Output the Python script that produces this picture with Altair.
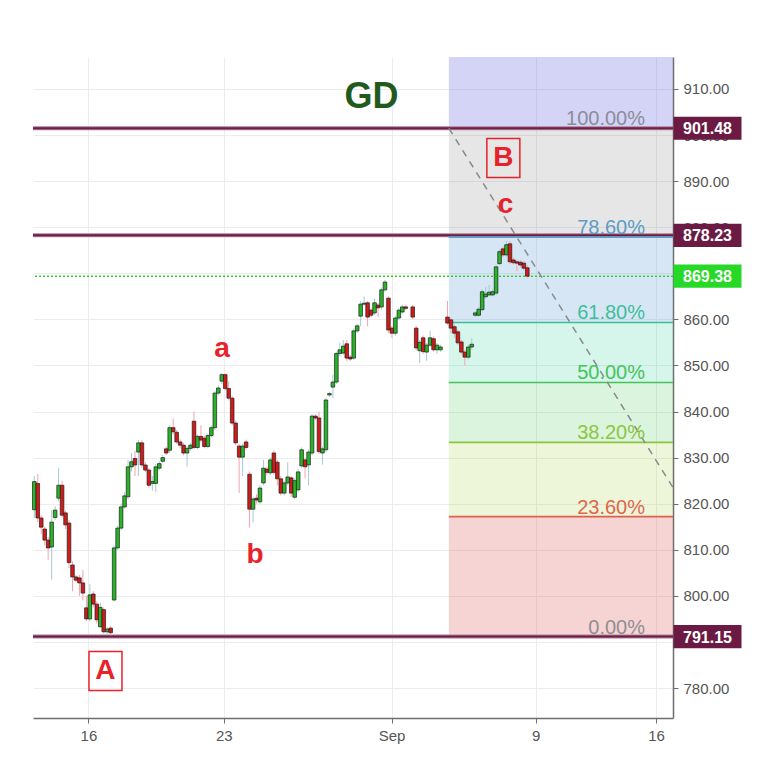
import altair as alt
import pandas as pd

# ---------------- price bars (hourly) ----------------
opens = [818.7, 824.4, 816.9, 814.5, 812.1, 810.6, 817.0, 821.2, 824.0, 818.0,
         815.8, 806.7, 804.1, 803.9, 802.8, 797.4, 795.0, 800.4, 798.2, 793.3,
         797.0, 792.2, 793.0, 799.1, 810.4, 814.7, 819.3, 821.5, 828.0, 829.8,
         831.2, 833.2, 828.4, 827.3, 824.4, 824.4, 827.7, 829.2, 831.9, 831.6,
         836.5, 835.5, 833.4, 832.7, 831.0, 832.0, 837.9, 832.2, 834.6, 834.2,
         832.4, 834.8, 836.5, 844.0, 846.6, 848.0, 845.0, 842.9, 837.5, 832.5,
         830.1, 833.4, 826.4, 818.8, 821.2, 820.4, 824.5, 827.5, 826.7, 831.0,
         829.0, 825.4, 822.3, 824.5, 825.6, 821.4, 823.0, 828.2, 829.5, 828.4,
         831.0, 839.0, 838.6, 831.0, 831.7, 843.6, 845.3, 846.4, 852.6, 852.7,
         854.7, 851.8, 851.6, 857.5, 860.7, 863.3, 863.6, 862.0, 861.4, 863.1,
         862.7, 866.4, 864.6, 858.1, 857.0, 860.3, 861.6, 862.7, 862.7, 858.1,
         853.2, 856.0, 852.9, 854.4, 855.8, 853.4, 853.4, 860.5, 859.9, 858.4,
         857.3, 855.1, 852.9, 851.8, 854.0, 860.9, 860.9, 862.1, 864.9, 865.3,
         865.3, 865.7, 872.1, 875.3, 874.0, 876.4, 872.9, 872.5, 872.4, 872.2,
         871.2]
highs = [826.0, 826.5, 817.5, 815.0, 812.8, 818.6, 819.5, 827.8, 825.0, 818.5,
         816.5, 807.5, 804.5, 804.5, 805.6, 800.0, 802.6, 801.0, 798.8, 798.5,
         797.5, 793.2, 793.4, 811.0, 815.2, 820.0, 822.5, 829.5, 831.0, 831.5,
         833.8, 833.8, 829.0, 827.8, 826.0, 828.6, 829.2, 830.6, 832.4, 837.0,
         838.5, 836.0, 834.0, 833.2, 832.5, 833.2, 840.0, 835.0, 837.0, 834.7,
         835.2, 837.0, 844.5, 845.6, 848.4, 848.3, 846.5, 843.4, 838.0, 833.0,
         833.0, 833.9, 827.0, 821.5, 822.0, 824.0, 829.5, 828.0, 830.0, 831.6,
         829.5, 826.0, 825.0, 829.0, 826.0, 825.5, 827.5, 832.2, 830.0, 831.7,
         839.5, 839.4, 840.0, 832.4, 843.0, 844.3, 848.0, 853.0, 855.0, 855.5,
         855.5, 852.3, 858.0, 859.0, 864.0, 865.0, 864.0, 862.5, 864.5, 863.6,
         866.9, 868.6, 865.0, 858.6, 860.8, 862.5, 863.2, 863.2, 863.2, 858.6,
         855.5, 856.5, 854.9, 857.5, 856.3, 854.9, 854.5, 864.0, 860.4, 858.9,
         857.8, 855.6, 853.4, 854.5, 855.9, 861.8, 862.7, 866.5, 867.0, 867.5,
         866.5, 871.9, 875.2, 875.8, 877.0, 877.0, 873.4, 873.0, 872.9, 872.7,
         871.7]
lows = [816.9, 816.0, 813.5, 811.0, 807.8, 803.5, 816.5, 820.5, 817.0, 814.5,
        806.0, 801.0, 803.0, 800.0, 799.0, 794.5, 794.5, 797.5, 794.0, 793.0,
        791.8, 791.6, 791.4, 798.8, 810.0, 814.2, 819.0, 821.0, 827.0, 826.0,
        826.0, 827.8, 826.8, 823.5, 822.8, 822.5, 827.2, 828.8, 830.5, 831.0,
        835.0, 833.0, 832.0, 830.5, 828.0, 831.5, 831.8, 831.8, 833.3, 832.0,
        832.0, 834.4, 836.0, 843.5, 846.0, 844.5, 842.4, 837.0, 832.7, 822.3,
        826.0, 831.7, 814.8, 816.0, 820.0, 820.0, 824.0, 826.3, 826.2, 826.3,
        824.0, 821.8, 821.8, 824.0, 821.5, 821.0, 822.5, 827.8, 825.5, 824.0,
        830.5, 838.2, 830.8, 828.5, 831.2, 843.2, 843.0, 846.0, 852.0, 852.3,
        851.0, 851.0, 851.2, 857.0, 858.5, 863.0, 858.5, 860.4, 861.0, 860.5,
        862.2, 866.0, 857.0, 856.0, 856.5, 859.8, 861.2, 862.0, 860.0, 853.3,
        850.5, 852.5, 851.0, 854.0, 853.0, 852.5, 853.0, 858.8, 857.0, 856.0,
        854.4, 852.4, 850.0, 851.3, 853.5, 860.5, 860.5, 861.7, 864.5, 865.0,
        865.0, 865.3, 871.7, 873.5, 873.6, 872.0, 871.9, 870.5, 871.3, 870.6,
        869.0]
closes = [824.8, 816.9, 814.9, 812.1, 810.4, 816.0, 818.6, 824.0, 817.5, 815.4,
          807.2, 804.1, 803.4, 802.8, 800.6, 795.0, 800.2, 798.2, 794.8, 797.5,
          792.2, 792.8, 792.0, 810.4, 814.7, 819.3, 821.7, 828.0, 829.1, 828.4,
          833.2, 828.4, 827.3, 824.0, 824.8, 828.0, 828.7, 830.0, 831.0, 836.5,
          835.6, 833.4, 832.7, 831.0, 832.0, 832.7, 832.2, 834.6, 833.8, 832.4,
          834.8, 836.5, 844.0, 845.1, 848.0, 845.0, 842.9, 837.5, 833.2, 830.1,
          832.5, 832.2, 818.8, 821.0, 820.8, 823.4, 827.7, 826.8, 829.5, 826.8,
          825.4, 822.3, 824.5, 825.8, 822.3, 825.0, 826.9, 831.7, 828.0, 831.2,
          839.0, 838.6, 831.3, 831.9, 842.5, 843.9, 846.4, 852.6, 853.4, 854.2,
          851.6, 851.4, 857.5, 858.6, 863.3, 863.5, 860.5, 860.9, 863.6, 862.5,
          866.4, 868.1, 857.7, 857.0, 860.3, 862.0, 862.7, 862.4, 860.5, 853.8,
          855.0, 853.0, 854.4, 856.0, 853.4, 854.4, 854.0, 859.2, 858.1, 857.0,
          854.9, 852.9, 851.8, 854.0, 854.6, 861.4, 862.2, 866.0, 865.5, 865.9,
          866.0, 871.4, 874.7, 874.0, 876.2, 872.5, 872.3, 872.2, 871.8, 871.1,
          869.38]
# bar slot of every candle; the two session breaks leave one empty slot each
slots = list(range(0, 108)) + list(range(109, 118)) + list(range(119, 143))

# ---------------- swing points and levels ----------------
point_A = 791.15
point_B = 901.48
resistance = 878.23
last_price = 869.38
fib_start = 119.4          # bar slot where the retracement is anchored
trend_end = (183.96, 823.5)

fib_ratios = [0.0, 0.236, 0.382, 0.5, 0.618, 0.786, 1.0]
fib_labels = ["0.00%", "23.60%", "38.20%", "50.00%", "61.80%", "78.60%", "100.00%"]
fib_line_colors = ["#8a8a8a", "#e0604c", "#8cc63f", "#45c45a", "#3cbf9a", "#5b9cc8", "#8a8a9e"]
fib_text_colors = ["#8f8f8f", "#e0654c", "#8cc63f", "#45c45a", "#3cbf9a", "#5b9cc8", "#8c8c9c"]
# fill between consecutive levels, the last one is above 100%
zone_colors = ["rgba(224,96,96,0.27)", "rgba(170,210,70,0.2)", "rgba(76,200,92,0.2)",
               "rgba(51,204,153,0.2)", "rgba(91,156,214,0.25)", "rgba(128,128,128,0.2)",
               "rgba(102,102,221,0.28)"]

x_ticks = [15.6, 54.6, 102.9, 144.4, 179.1]
x_tick_labels = ["16", "23", "Sep", "9", "16"]
y_ticks = list(range(780, 911, 10))

X_DOMAIN = [-0.374, 183.96]
Y_DOMAIN = [773.49, 916.94]
FONT = "Liberation Sans"

# ---------------- tables ----------------
bars = pd.DataFrame({"t": slots, "o": opens, "h": highs, "l": lows, "c": closes})
bars["h"] = bars[["h", "o", "c"]].max(axis=1)
bars["l"] = bars[["l", "o", "c"]].min(axis=1)
bars["up"] = bars["c"] >= bars["o"]

span = point_B - point_A
level_prices = [point_A + r * span for r in fib_ratios]
levels = pd.DataFrame({"p": level_prices, "label": fib_labels,
                       "line": fib_line_colors, "tc": fib_text_colors,
                       "x0": fib_start, "x1": X_DOMAIN[1], "xl": 175.9})
zone_tops = level_prices[1:] + [Y_DOMAIN[1]]
zones = pd.DataFrame({"y0": level_prices, "y1": zone_tops, "fill": zone_colors,
                      "x0": fib_start, "x1": X_DOMAIN[1]})

xs = alt.Scale(domain=X_DOMAIN, nice=False, zero=False, padding=0)
ys = alt.Scale(domain=Y_DOMAIN, nice=False, zero=False, padding=0)

label_expr = " : ".join(
    f"abs(datum.value - {t}) < 0.01 ? '{lab}'" for t, lab in zip(x_ticks, x_tick_labels)
) + " : ''"

axis_common = dict(domainColor="#6e6e6e", domainWidth=1.5, tickColor="#6e6e6e",
                   tickSize=5, labelColor="#555555", labelFont=FONT,
                   labelFontSize=15, gridColor="#ececec", gridWidth=1, title=None,
                   labelPadding=5)

X = alt.X("x:Q", scale=xs,
          axis=alt.Axis(values=x_ticks, labelExpr=label_expr, orient="bottom", **axis_common))
Y = alt.Y("y:Q", scale=ys,
          axis=alt.Axis(values=y_ticks, format=".2f", orient="right", **axis_common))

# base layer carrying the axes and grid
base = alt.Chart(pd.DataFrame({"x": [X_DOMAIN[0]], "y": [Y_DOMAIN[0]]})).mark_point(
    opacity=0).encode(x=X, y=Y)

zone_layer = alt.Chart(zones).mark_rect().encode(
    x=alt.X("x0:Q", scale=xs), x2="x1:Q",
    y=alt.Y("y0:Q", scale=ys), y2="y1:Q",
    fill=alt.Fill("fill:N", scale=None))

level_lines = alt.Chart(levels).mark_rule(strokeWidth=1.6).encode(
    x=alt.X("x0:Q", scale=xs), x2="x1:Q",
    y=alt.Y("p:Q", scale=ys),
    color=alt.Color("line:N", scale=None))

hlines = pd.DataFrame({"p": [point_B, resistance, point_A]})
purple_outer = alt.Chart(hlines).mark_rule(strokeWidth=4, color="#b07d9a").encode(
    y=alt.Y("p:Q", scale=ys))
purple_inner = alt.Chart(hlines).mark_rule(strokeWidth=2, color="#6a1f45").encode(
    y=alt.Y("p:Q", scale=ys))

# the 78.6% line drawn again inside the zone, over the resistance line
level_lines_top = alt.Chart(levels[levels["label"].isin(["78.60%"])]).mark_rule(
    strokeWidth=1.6).encode(
    x=alt.X("x0:Q", scale=xs), x2="x1:Q",
    y=alt.Y("p:Q", scale=ys),
    color=alt.Color("line:N", scale=None))

last_line = alt.Chart(pd.DataFrame({"p": [last_price]})).mark_rule(
    strokeWidth=1.5, color="#2ccf2c", strokeDash=[2, 2]).encode(y=alt.Y("p:Q", scale=ys))

trend = alt.Chart(pd.DataFrame({"x0": [fib_start], "y0": [point_B],
                                "x1": [trend_end[0]], "y1": [trend_end[1]]})).mark_rule(
    strokeWidth=1.5, color="#8a8a8a", strokeDash=[7, 6]).encode(
    x=alt.X("x0:Q", scale=xs), x2="x1:Q", y=alt.Y("y0:Q", scale=ys), y2="y1:Q")

wicks = alt.Chart(bars).mark_rule(strokeWidth=1).encode(
    x=alt.X("t:Q", scale=xs), y=alt.Y("l:Q", scale=ys), y2="h:Q",
    color=alt.Color("up:N", scale=alt.Scale(domain=[True, False],
                                             range=["#a3c8d8", "#f4a3ab"]), legend=None))
bodies = alt.Chart(bars).mark_bar(size=3.6, stroke="#1e1e1e", strokeWidth=0.7).encode(
    x=alt.X("t:Q", scale=xs), y=alt.Y("o:Q", scale=ys), y2="c:Q",
    fill=alt.Fill("up:N", scale=alt.Scale(domain=[True, False],
                                           range=["#26b526", "#d11a1a"]), legend=None))

pct_labels = alt.Chart(levels).mark_text(
    align="right", baseline="alphabetic", dy=-3, font=FONT, fontSize=20).encode(
    x=alt.X("xl:Q", scale=xs), y=alt.Y("p:Q", scale=ys),
    text="label:N", color=alt.Color("tc:N", scale=None))

# wave labels
waves = pd.DataFrame({"x": [54.06, 63.57, 135.7], "y": [851.84, 807.13, 883.09],
                      "txt": ["a", "b", "c"]})
wave_text = alt.Chart(waves).mark_text(
    font=FONT, fontSize=28, fontWeight="bold", color="#e8222a", baseline="alphabetic").encode(
    x=alt.X("x:Q", scale=xs), y=alt.Y("y:Q", scale=ys), text="txt:N")

pivots = pd.DataFrame({"x": [20.5, 135.1], "y": [783.7, 895.0], "txt": ["A", "B"]})
pivot_box = alt.Chart(pivots).mark_point(
    shape="M-0.846,-1L0.846,-1L0.846,1L-0.846,1Z", size=1521, filled=False,
    stroke="#e8222a", strokeWidth=1.5, opacity=1).encode(
    x=alt.X("x:Q", scale=xs), y=alt.Y("y:Q", scale=ys))
pivot_text = alt.Chart(pivots).mark_text(
    font=FONT, fontSize=28, fontWeight="bold", color="#e8222a", baseline="middle").encode(
    x=alt.X("x:Q", scale=xs), y=alt.Y("y:Q", scale=ys), text="txt:N")

title = alt.Chart(pd.DataFrame({"x": [97.1], "y": [905.9], "txt": ["GD"]})).mark_text(
    font=FONT, fontSize=36, fontWeight="bold", color="#1f5a1e", baseline="alphabetic").encode(
    x=alt.X("x:Q", scale=xs), y=alt.Y("y:Q", scale=ys), text="txt:N")

# price tags on the right axis
tags = pd.DataFrame({"p": [point_B, resistance, last_price, point_A],
                     "bg": ["#6b1a43", "#6b1a43", "#27d827", "#6b1a43"]})
tag_box = alt.Chart(tags).mark_point(
    shape="M-1,-0.34L1,-0.34L1,0.34L-1,0.34Z", size=4624, filled=True, opacity=1).encode(
    x=alt.value(674.5), y=alt.Y("p:Q", scale=ys), fill=alt.Fill("bg:N", scale=None))
tag_text = alt.Chart(tags).mark_text(
    font=FONT, fontSize=16, fontWeight="bold", color="white", baseline="middle", dy=1).encode(
    x=alt.value(674.5), y=alt.Y("p:Q", scale=ys), text=alt.Text("p:Q", format=".2f"))

chart = alt.layer(
    base, zone_layer, level_lines, purple_outer, purple_inner, level_lines_top,
    last_line, trend, wicks, bodies, pct_labels, wave_text, pivot_box, pivot_text,
    title, tag_box, tag_text
).properties(
    width=640, height=661,
    autosize=alt.AutoSizeParams(type="none"),
    padding={"left": 33, "top": 57, "right": 91, "bottom": 44},
    background="white",
).configure_view(strokeWidth=0, stroke="transparent")

chart.save("out.html", embed_options={"renderer": "svg", "actions": False})
